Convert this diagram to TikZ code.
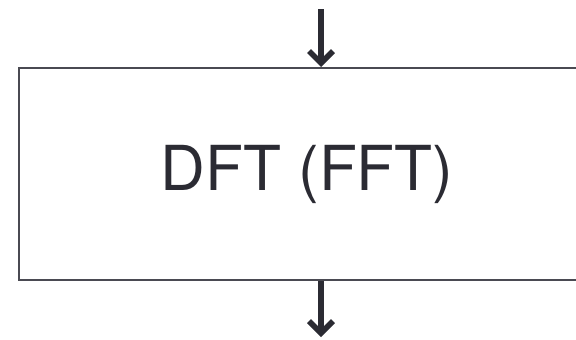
\documentclass[tikz,border=0pt]{standalone}
\usepackage{fontspec}
\setmainfont{TeX Gyre Heros}
\usetikzlibrary{arrows.meta}
\definecolor{ink}{HTML}{2B2B33}
\definecolor{edge}{HTML}{4A4A52}
\tikzset{
  procbox/.style={draw=edge, line width=2pt, fill=white, minimum width=576pt, minimum height=212pt, inner sep=0pt, font=\fontsize{62}{72}\selectfont, text=ink},
  flow/.style={draw=ink, line width=5.5pt, -{Straight Barb[length=12pt,width=24pt,line width=5.5pt]}, line join=miter, line cap=butt}
}
\begin{document}
\begin{tikzpicture}[x=1pt,y=-1pt]
\useasboundingbox (0,0) rectangle (576,340);
\clip (0,0) rectangle (576,340);
\node[procbox] (box) at (307,174) {DFT (FFT)};
\coordinate (in) at (321,9);
\coordinate (out) at (321,337);
\draw[flow] (in) -- (in |- box.north);
\draw[flow] (in |- box.south) -- (out);
\end{tikzpicture}
\end{document}
